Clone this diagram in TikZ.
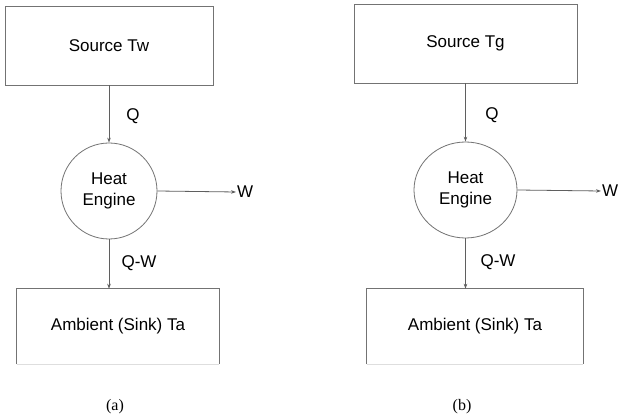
\documentclass[tikz,border=0pt]{standalone}
\usepackage{fontspec}
\setmainfont{Liberation Serif}
\newfontfamily\arialf{Liberation Sans}
\usetikzlibrary{arrows.meta,shapes.geometric}
\definecolor{linec}{RGB}{95,95,95}
\definecolor{boxc}{RGB}{115,115,115}
\definecolor{faintc}{RGB}{222,222,222}
\tikzset{
  box/.style={draw=boxc, line width=0.9pt, rectangle, inner sep=0pt, font=\arialf\fontsize{17}{20}\selectfont},
  openbox/.style={rectangle, inner sep=0pt, font=\arialf\fontsize{17}{20}\selectfont},
  engine/.style={draw=boxc, line width=0.8pt, ellipse, inner sep=0pt, align=center, font=\arialf\fontsize{17}{21}\selectfont},
  lbl/.style={inner sep=1pt, font=\arialf\fontsize{17}{20}\selectfont},
  captxt/.style={inner sep=0pt, font=\fontsize{16}{19}\selectfont},
  flow/.style={draw=linec, line width=0.8pt, -{Stealth[length=5pt,width=3.5pt]}},
}
\begin{document}
\begin{tikzpicture}[x=1pt,y=-1pt]
\useasboundingbox (0,0) rectangle (619,419);
\fill[white] (0,0) rectangle (619,419);
% (a)
\node[box, minimum width=208pt, minimum height=79pt] (srcA) at (109,45.5) {Source Tw};
\node[engine, minimum width=96pt, minimum height=96pt] (heA) at (109,191) {Heat\\Engine};
\node[openbox, minimum width=202pt, minimum height=75pt] (sinkA) at (118,326.5) {Ambient (Sink) Ta};
\draw[draw=boxc, line width=0.9pt] (sinkA.south west) -- (sinkA.north west) -- (sinkA.north east) -- (sinkA.south east);
\draw[draw=faintc, line width=0.8pt] (sinkA.south west) -- (sinkA.south east);
\node[lbl, anchor=west] (wA) at (236,192) {W};
\node[lbl] (qA) at (133,116) {Q};
\node[lbl] (qwA) at (139,263) {Q-W};
\draw[flow] (srcA.south -| heA.north) -- (heA.north);
\draw[flow] (heA.east) -- (wA.west);
\draw[flow] (heA.south) -- (heA.south |- sinkA.north);
\node[captxt] (capA) at (115,407) {(a)};
% (b)
\node[box, minimum width=223pt, minimum height=79pt] (srcB) at (465.5,43.5) {Source Tg};
\node[engine, minimum width=103pt, minimum height=96pt] (heB) at (465.5,190) {Heat\\Engine};
\node[openbox, minimum width=216pt, minimum height=75pt] (sinkB) at (475,326.5) {Ambient (Sink) Ta};
\draw[draw=boxc, line width=0.9pt] (sinkB.south west) -- (sinkB.north west) -- (sinkB.north east) -- (sinkB.south east);
\draw[draw=faintc, line width=0.8pt] (sinkB.south west) -- (sinkB.south east);
\node[lbl, anchor=west] (wB) at (601,191) {W};
\node[lbl] (qB) at (492,115) {Q};
\node[lbl] (qwB) at (498,262) {Q-W};
\draw[flow] (srcB.south -| heB.north) -- (heB.north);
\draw[flow] (heB.east) -- (wB.west);
\draw[flow] (heB.south) -- (heB.south |- sinkB.north);
\node[captxt] (capB) at (462,407) {(b)};
\end{tikzpicture}
\end{document}
